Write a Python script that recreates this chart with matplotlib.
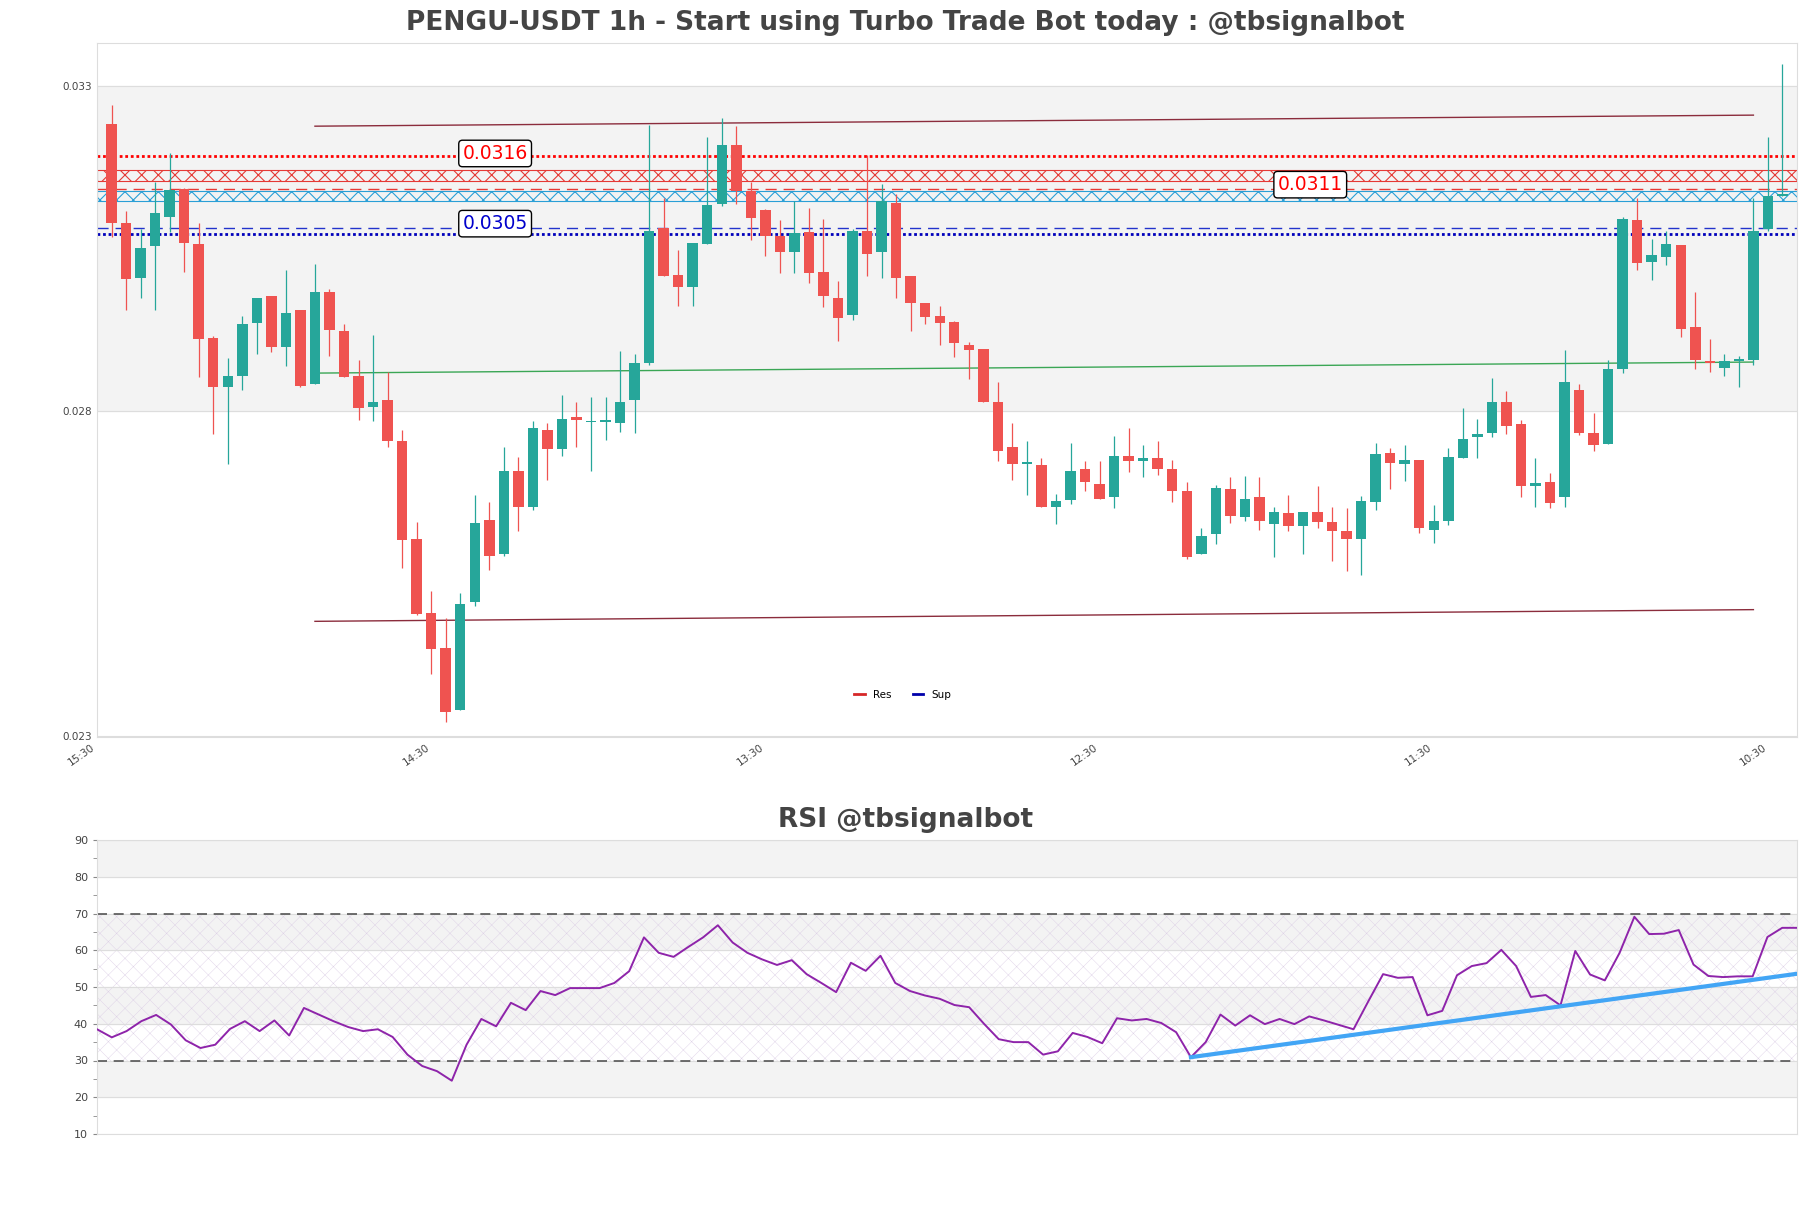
import matplotlib
matplotlib.use("Agg")
import matplotlib.pyplot as plt
import numpy as np

# candles (1h), oldest first
opens = [0.03242, 0.03089, 0.03005, 0.03053, 0.03099, 0.03142, 0.03057, 0.02912, 0.02836, 0.02854,
         0.02935, 0.02977, 0.02898, 0.02955, 0.02841, 0.02983, 0.02923, 0.02854, 0.02806, 0.02817,
         0.02754, 0.02603, 0.02489, 0.02435, 0.02339, 0.02505, 0.02632, 0.02580, 0.02708, 0.02652,
         0.02770, 0.02741, 0.02790, 0.02782, 0.02783, 0.02781, 0.02816, 0.02873, 0.03082, 0.03009,
         0.02990, 0.03056, 0.03118, 0.03209, 0.03139, 0.03109, 0.03069, 0.03045, 0.03075, 0.03014,
         0.02974, 0.02947, 0.03077, 0.03045, 0.03120, 0.03007, 0.02966, 0.02946, 0.02936, 0.02902,
         0.02895, 0.02814, 0.02744, 0.02718, 0.02717, 0.02652, 0.02662, 0.02710, 0.02687, 0.02667,
         0.02730, 0.02723, 0.02727, 0.02710, 0.02677, 0.02579, 0.02610, 0.02679, 0.02636, 0.02667,
         0.02626, 0.02643, 0.02622, 0.02645, 0.02629, 0.02615, 0.02603, 0.02660, 0.02735, 0.02718,
         0.02725, 0.02617, 0.02631, 0.02727, 0.02759, 0.02766, 0.02813, 0.02779, 0.02685, 0.02691,
         0.02667, 0.02832, 0.02766, 0.02749, 0.02864, 0.03093, 0.03029, 0.03036, 0.03055, 0.02929,
         0.02876, 0.02866, 0.02876, 0.02878, 0.03079, 0.03130]
closes = [0.03089, 0.03003, 0.03051, 0.03104, 0.03140, 0.03058, 0.02910, 0.02836, 0.02854, 0.02933,
          0.02974, 0.02898, 0.02950, 0.02838, 0.02983, 0.02924, 0.02852, 0.02805, 0.02813, 0.02753,
          0.02601, 0.02488, 0.02433, 0.02336, 0.02503, 0.02627, 0.02576, 0.02708, 0.02652, 0.02773,
          0.02741, 0.02788, 0.02786, 0.02784, 0.02784, 0.02814, 0.02873, 0.03077, 0.03008, 0.02990,
          0.03058, 0.03116, 0.03209, 0.03138, 0.03097, 0.03069, 0.03045, 0.03074, 0.03012, 0.02976,
          0.02943, 0.03077, 0.03042, 0.03123, 0.03005, 0.02966, 0.02945, 0.02935, 0.02904, 0.02893,
          0.02813, 0.02738, 0.02718, 0.02719, 0.02652, 0.02661, 0.02708, 0.02691, 0.02665, 0.02730,
          0.02722, 0.02727, 0.02710, 0.02676, 0.02575, 0.02608, 0.02681, 0.02638, 0.02665, 0.02630,
          0.02645, 0.02623, 0.02645, 0.02629, 0.02615, 0.02602, 0.02661, 0.02734, 0.02720, 0.02725,
          0.02619, 0.02631, 0.02729, 0.02756, 0.02764, 0.02813, 0.02776, 0.02684, 0.02689, 0.02658,
          0.02845, 0.02766, 0.02747, 0.02864, 0.03095, 0.03027, 0.03039, 0.03057, 0.02926, 0.02878,
          0.02874, 0.02876, 0.02878, 0.03077, 0.03130, 0.03134]
highs = [0.03270, 0.03108, 0.03080, 0.03152, 0.03196, 0.03143, 0.03089, 0.02915, 0.02881, 0.02946,
         0.02974, 0.02977, 0.03017, 0.02955, 0.03026, 0.02988, 0.02933, 0.02878, 0.02916, 0.02859,
         0.02770, 0.02629, 0.02523, 0.02481, 0.02519, 0.02671, 0.02660, 0.02744, 0.02729, 0.02785,
         0.02781, 0.02825, 0.02814, 0.02821, 0.02821, 0.02892, 0.02888, 0.03240, 0.03127, 0.03048,
         0.03058, 0.03222, 0.03251, 0.03238, 0.03152, 0.03111, 0.03093, 0.03123, 0.03112, 0.03095,
         0.03000, 0.03079, 0.03194, 0.03149, 0.03134, 0.03007, 0.02966, 0.02962, 0.02938, 0.02906,
         0.02895, 0.02844, 0.02781, 0.02754, 0.02727, 0.02672, 0.02751, 0.02722, 0.02722, 0.02761,
         0.02773, 0.02747, 0.02754, 0.02725, 0.02691, 0.02619, 0.02686, 0.02698, 0.02700, 0.02698,
         0.02652, 0.02670, 0.02645, 0.02684, 0.02652, 0.02650, 0.02669, 0.02751, 0.02742, 0.02747,
         0.02725, 0.02655, 0.02742, 0.02804, 0.02788, 0.02851, 0.02830, 0.02786, 0.02727, 0.02705,
         0.02893, 0.02841, 0.02797, 0.02878, 0.03099, 0.03127, 0.03064, 0.03077, 0.03055, 0.02983,
         0.02911, 0.02887, 0.02885, 0.03127, 0.03222, 0.03333]
lows = [0.03067, 0.02955, 0.02974, 0.02955, 0.03075, 0.03014, 0.02852, 0.02764, 0.02718, 0.02832,
        0.02887, 0.02891, 0.02869, 0.02836, 0.02841, 0.02884, 0.02852, 0.02786, 0.02784, 0.02744,
        0.02558, 0.02485, 0.02395, 0.02321, 0.02339, 0.02500, 0.02555, 0.02577, 0.02615, 0.02648,
        0.02694, 0.02730, 0.02744, 0.02707, 0.02755, 0.02768, 0.02766, 0.02870, 0.03008, 0.02962,
        0.02962, 0.03056, 0.03115, 0.03118, 0.03063, 0.03038, 0.03012, 0.03012, 0.02996, 0.02959,
        0.02907, 0.02940, 0.03007, 0.03005, 0.02974, 0.02923, 0.02933, 0.02902, 0.02883, 0.02849,
        0.02813, 0.02723, 0.02694, 0.02670, 0.02652, 0.02626, 0.02656, 0.02677, 0.02665, 0.02650,
        0.02706, 0.02698, 0.02701, 0.02660, 0.02572, 0.02579, 0.02595, 0.02627, 0.02630, 0.02617,
        0.02575, 0.02615, 0.02580, 0.02620, 0.02569, 0.02553, 0.02548, 0.02648, 0.02680, 0.02692,
        0.02612, 0.02596, 0.02624, 0.02727, 0.02727, 0.02759, 0.02765, 0.02668, 0.02652, 0.02650,
        0.02652, 0.02763, 0.02738, 0.02749, 0.02858, 0.03016, 0.03002, 0.03025, 0.02913, 0.02865,
        0.02859, 0.02854, 0.02837, 0.02870, 0.03077, 0.03130]

rsi = [38.5, 36.3, 38.0, 40.7, 42.4, 39.8, 35.5, 33.4, 34.3, 38.6,
       40.7, 38.0, 40.9, 36.8, 44.3, 42.5, 40.7, 39.1, 38.0, 38.5,
       36.4, 31.6, 28.5, 27.1, 24.5, 34.3, 41.3, 39.3, 45.7, 43.7,
       48.9, 47.8, 49.7, 49.7, 49.7, 51.1, 54.3, 63.5, 59.3, 58.2,
       60.9, 63.5, 66.8, 62.1, 59.3, 57.5, 56.0, 57.3, 53.5, 51.1,
       48.6, 56.6, 54.4, 58.5, 51.1, 48.9, 47.7, 46.8, 45.1, 44.5,
       40.0, 35.8, 35.0, 35.0, 31.6, 32.5, 37.5, 36.4, 34.7, 41.5,
       40.9, 41.3, 40.2, 37.7, 30.9, 35.0, 42.5, 39.5, 42.3, 39.9,
       41.3, 39.9, 42.0, 40.9, 39.7, 38.5, 46.1, 53.5, 52.5, 52.7,
       42.3, 43.5, 53.2, 55.7, 56.5, 60.1, 55.7, 47.3, 47.8, 45.0,
       59.8, 53.4, 51.8, 59.3, 69.1, 64.4, 64.5, 65.5, 56.1, 53.0,
       52.7, 52.9, 52.9, 63.6, 66.1, 66.1]

tick_pos = [0, 23, 46, 69, 92, 115]
tick_labels = ["15:30", "14:30", "13:30", "12:30", "11:30", "10:30"]

res_dotted = 0.03192
res_zone = (0.03154, 0.03170)
res_dashed = 0.03142
sup_zone = (0.03123, 0.03139)
sup_dashed = 0.03082
sup_dotted = 0.03072

chan_x = [15, 114]
chan_upper = [0.03238, 0.03255]
chan_lower = [0.02476, 0.02494]
chan_mid = [0.02858, 0.02875]

rsi_trend_x = [74, 115]
rsi_trend_y = [30.9, 53.6]

GREEN = "#26a69a"
RED = "#ef5350"
GRID = "#dddddd"
TXT = "#444444"

fig = plt.figure(figsize=(18.11, 12.08), dpi=100)
ax = fig.add_axes([97 / 1811, 1 - 737 / 1208, 1700 / 1811, 694 / 1208])
ax2 = fig.add_axes([97 / 1811, 1 - 1134 / 1208, 1700 / 1811, 294 / 1208])

# ---- price panel ----
n = len(opens)
xs = np.arange(1, n + 1)
o = np.array(opens); c = np.array(closes); h = np.array(highs); l = np.array(lows)
up = c >= o
cols = np.where(up, GREEN, RED)
ax.axhspan(0.028, 0.033, color="#f3f3f3", zorder=0)
ax.vlines(xs, l, h, colors=cols, lw=0.9, zorder=3)
body = np.maximum(np.abs(c - o), 0.00003)
ax.bar(xs, body, bottom=np.minimum(o, c), width=0.72, color=cols, zorder=4)

ax.axhline(res_dotted, color="red", ls=(0, (1, 1)), lw=2, zorder=2)
plt.rcParams["hatch.linewidth"] = 0.8
ax.fill_between([0, 117], res_zone[0], res_zone[1], facecolor="none",
                edgecolor="#e53935", hatch="xx", lw=0.8, zorder=2)
ax.axhline(res_dashed, color="#e53935", ls=(0, (8, 5)), lw=1, zorder=2)
ax.fill_between([0, 117], sup_zone[0], sup_zone[1], facecolor="none",
                edgecolor="#2a9fd6", hatch="xx", lw=0.8, zorder=2)
ax.axhline(sup_dashed, color="#2233cc", ls=(0, (8, 5)), lw=1, zorder=2)
ax.axhline(sup_dotted, color="#0000bb", ls=(0, (1, 1)), lw=2, zorder=2)

ax.plot(chan_x, chan_upper, color="#8b2c3c", lw=1, zorder=2)
ax.plot(chan_x, chan_lower, color="#8b2c3c", lw=1, zorder=2)
ax.plot(chan_x, chan_mid, color="#3aa655", lw=1, zorder=2)

box = dict(boxstyle="round,pad=0.2", fc="white", ec="black", lw=1)
ax.text(27.4, 0.03196, "0.0316", color="red", fontsize=13.5, ha="center", va="center", bbox=box, zorder=6)
ax.text(27.4, 0.03088, "0.0305", color="#0000cc", fontsize=13.5, ha="center", va="center", bbox=box, zorder=6)
ax.text(83.5, 0.03148, "0.0311", color="red", fontsize=13.5, ha="center", va="center", bbox=box, zorder=6)

ax.plot([], [], color="#d62728", lw=2, label="Res")
ax.plot([], [], color="#0000aa", lw=2, label="Sup")
ax.legend(loc="lower center", bbox_to_anchor=(0.474, 0.04), ncol=2, frameon=False,
          fontsize=7.5, handlelength=1.0)

ax.set_xlim(0, 117)
ax.set_ylim(0.02298, 0.03366)
ax.set_yticks([0.023, 0.028, 0.033])
ax.set_yticklabels(["0.023", "0.028", "0.033"])
ax.set_xticks(tick_pos)
ax.set_xticklabels(tick_labels, rotation=35, ha="right")
ax.tick_params(labelsize=7.5, colors=TXT, length=0)
ax.grid(axis="y", color=GRID, lw=0.8)
ax.set_axisbelow(True)
for s in ax.spines.values():
    s.set_color(GRID)
fig.text(0.5, 0.981, "PENGU-USDT 1h - Start using Turbo Trade Bot today : @tbsignalbot",
         ha="center", va="center", fontsize=19, fontweight="bold", color=TXT)

# ---- RSI panel ----
for lo in (20, 40, 60, 80):
    ax2.axhspan(lo, lo + 10, color="#f3f3f3", zorder=0)
plt.rcParams["hatch.linewidth"] = 0.3
ax2.fill_between([0, 115], 30, 70, facecolor="none", edgecolor="#dccfe6",
                 hatch="xx", lw=0, zorder=1)
ax2.axhline(70, color="#555555", ls=(0, (6, 4)), lw=1.2, zorder=2)
ax2.axhline(30, color="#555555", ls=(0, (6, 4)), lw=1.2, zorder=2)
ax2.plot(np.arange(len(rsi)), rsi, color="#8e24aa", lw=1.4, zorder=3)
ax2.plot(rsi_trend_x, rsi_trend_y, color="#42a5f5", lw=3, zorder=4)
ax2.set_xlim(0, 115)
ax2.set_ylim(10, 90)
ax2.set_yticks(range(10, 91, 10))
ax2.set_yticks(range(15, 90, 10), minor=True)
ax2.set_xticks([])
ax2.tick_params(labelsize=8, colors=TXT)
ax2.tick_params(which="both", color="#888888", length=3)
ax2.grid(axis="y", color=GRID, lw=0.8)
for s in ax2.spines.values():
    s.set_color(GRID)
fig.text(0.5, 0.321, "RSI @tbsignalbot", ha="center", va="center",
         fontsize=19, fontweight="bold", color=TXT)

fig.savefig("out.png", dpi=100)
